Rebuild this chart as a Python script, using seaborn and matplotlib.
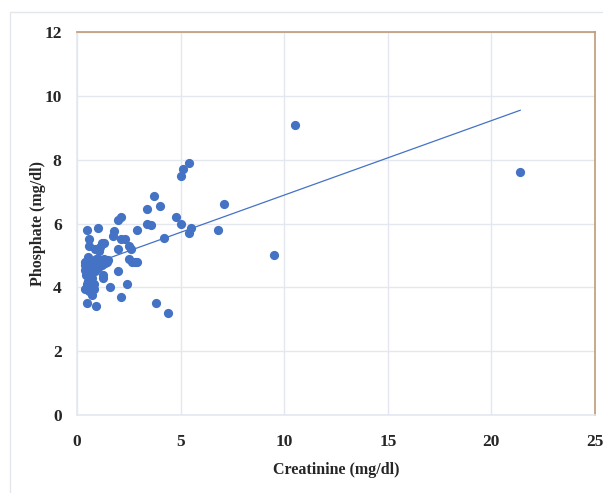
import numpy as np
import pandas as pd
import matplotlib
matplotlib.use("Agg")
import matplotlib.pyplot as plt
import seaborn as sns

# Creatinine / phosphate pairs
creatinine = [10.5, 21.4, 9.5, 7.1, 6.8,
              5.4, 5.1, 5.0, 3.7, 4.0, 3.4, 2.1, 2.0, 4.8, 5.0, 3.4, 3.55, 5.5, 5.4, 2.9,
              4.2, 0.5, 1.0, 1.8, 1.75, 2.1, 2.3, 0.6, 0.6, 1.2, 1.3, 1.1, 2.5, 2.6, 0.85,
              1.05, 2.0, 2.5, 2.65, 2.8, 2.9, 1.1, 1.3, 1.45, 1.2, 1.35, 0.55, 0.4, 0.65,
              0.8, 0.4, 0.55, 0.7, 0.85, 0.45, 0.6, 0.7, 1.25, 1.25, 2.0, 0.55, 0.7, 0.8,
              0.4, 0.6, 0.8, 1.6, 2.4, 0.7, 2.1, 0.5, 0.9, 3.8, 4.4, 0.4, 0.5, 0.9, 1.0, 1.5]
phosphate = [9.1, 7.6, 5.0, 6.6, 5.8,
             7.9, 7.7, 7.5, 6.85, 6.55, 6.45, 6.2, 6.1, 6.2, 6.0, 6.0, 5.95, 5.85, 5.7, 5.8,
             5.55, 5.8, 5.85, 5.75, 5.6, 5.5, 5.5, 5.5, 5.3, 5.4, 5.4, 5.25, 5.3, 5.2, 5.2,
             5.15, 5.2, 4.9, 4.8, 4.8, 4.8, 4.85, 4.9, 4.8, 4.7, 4.75, 4.95, 4.8, 4.8,
             4.75, 4.55, 4.6, 4.55, 4.5, 4.4, 4.35, 4.3, 4.4, 4.3, 4.5, 4.2, 4.15, 4.1,
             3.95, 3.9, 3.95, 4.0, 4.1, 3.75, 3.7, 3.5, 3.4, 3.5, 3.2, 4.7, 4.1, 4.9, 4.6, 4.85]

# linear trendline as drawn in the original (ends)
trend_x = [0.4, 21.4]
trend_y = [4.65, 9.55]

x_ticks = [0, 5, 10, 15, 20, 25]
y_ticks = [0, 2, 4, 6, 8, 10, 12]

df = pd.DataFrame({"Creatinine": creatinine, "Phosphate": phosphate})
trend = pd.DataFrame({"x": trend_x, "y": trend_y})

sns.set_theme(style="white")
plt.rcParams["font.family"] = ["Liberation Serif", "DejaVu Serif"]

blue = "#4472C4"
grid = "#E4E7EE"
frame = "#C09A78"

fig = plt.figure(figsize=(6.03, 4.93), dpi=100)
ax = fig.add_axes([77 / 603, 1 - 415 / 493, 518 / 603, 383 / 493])

sns.scatterplot(data=df, x="Creatinine", y="Phosphate", ax=ax, s=44,
                color=blue, linewidth=0, zorder=3)
sns.lineplot(data=trend, x="x", y="y", ax=ax, color=blue, lw=0.9, zorder=2)

ax.set_xlim(0, 25)
ax.set_ylim(0, 12)
ax.set_xticks(x_ticks)
ax.set_yticks(y_ticks)
ax.grid(True, color=grid, lw=1)
ax.set_axisbelow(True)
ax.tick_params(length=0, labelsize=12.5)
ax.tick_params(axis="x", pad=14)
ax.tick_params(axis="y", pad=11)
for lab in ax.get_xticklabels() + ax.get_yticklabels():
    lab.set_fontweight("bold")

ax.set_xlabel("Creatinine (mg/dl)", fontsize=11.5, fontweight="bold", labelpad=8)
ax.set_ylabel("Phosphate (mg/dl)", fontsize=11.5, fontweight="bold", labelpad=-1)

ax.spines["top"].set_color(frame)
ax.spines["right"].set_color(frame)
ax.spines["left"].set_color(grid)
ax.spines["bottom"].set_color(grid)
for s in ax.spines.values():
    s.set_linewidth(1.2)

# light outer chart frame
fig.patches.append(plt.Rectangle((10 / 603, -0.01), 1.0, 1 - 12 / 493 + 0.01,
                                 transform=fig.transFigure, fill=False,
                                 edgecolor="#E3E6EA", lw=1))

fig.savefig("out.png", dpi=100)
